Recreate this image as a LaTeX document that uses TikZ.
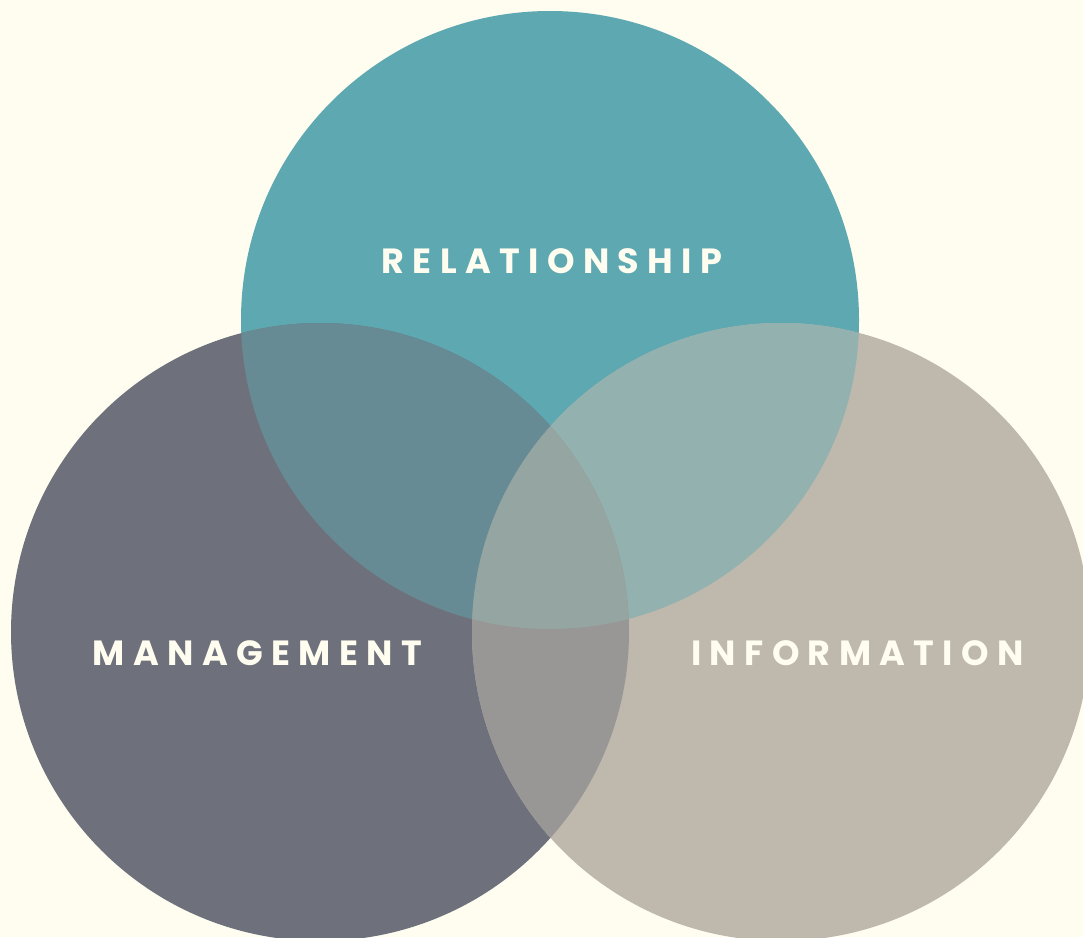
\documentclass[tikz,border=0pt]{standalone}
\usepackage{fontspec}
\newfontfamily\lblfont{Poppins}[LetterSpace=24]
\definecolor{bgc}{HTML}{FFFDF0}
\definecolor{topc}{HTML}{5EA8B1}
\definecolor{leftc}{HTML}{6E717B}
\definecolor{rightc}{HTML}{BFB8AD}
\definecolor{tlc}{HTML}{668B94}
\definecolor{trc}{HTML}{93B1AF}
\definecolor{lrc}{HTML}{989795}
\definecolor{allc}{HTML}{94A5A2}
\tikzset{
  lbl/.style={inner sep=0pt, anchor=base, text=bgc, font=\lblfont\bfseries\fontsize{35}{40}\selectfont}
}
\begin{document}
\begin{tikzpicture}[x=1pt,y=-1pt]
\fill[bgc] (0,0) rectangle (1083,937);
\useasboundingbox (0,0) rectangle (1083,937);
\coordinate (T) at (550,320);
\coordinate (L) at (320,632);
\coordinate (R) at (781,632);
\fill[topc] (T) circle[radius=309pt];
\fill[leftc] (L) circle[radius=309pt];
\fill[rightc] (R) circle[radius=309pt];
\begin{scope}
  \clip (T) circle[radius=309pt];
  \fill[tlc] (L) circle[radius=309pt];
  \fill[trc] (R) circle[radius=309pt];
\end{scope}
\begin{scope}
  \clip (L) circle[radius=309pt];
  \fill[lrc] (R) circle[radius=309pt];
  \clip (R) circle[radius=309pt];
  \fill[allc] (T) circle[radius=309pt];
\end{scope}
\node[lbl] (rel) at (552,273) {RELATIONSHIP};
\node[lbl] (man) at (257.5,665) {MANAGEMENT};
\node[lbl] (inf) at (857.5,665) {INFORMATION};
\end{tikzpicture}
\end{document}
